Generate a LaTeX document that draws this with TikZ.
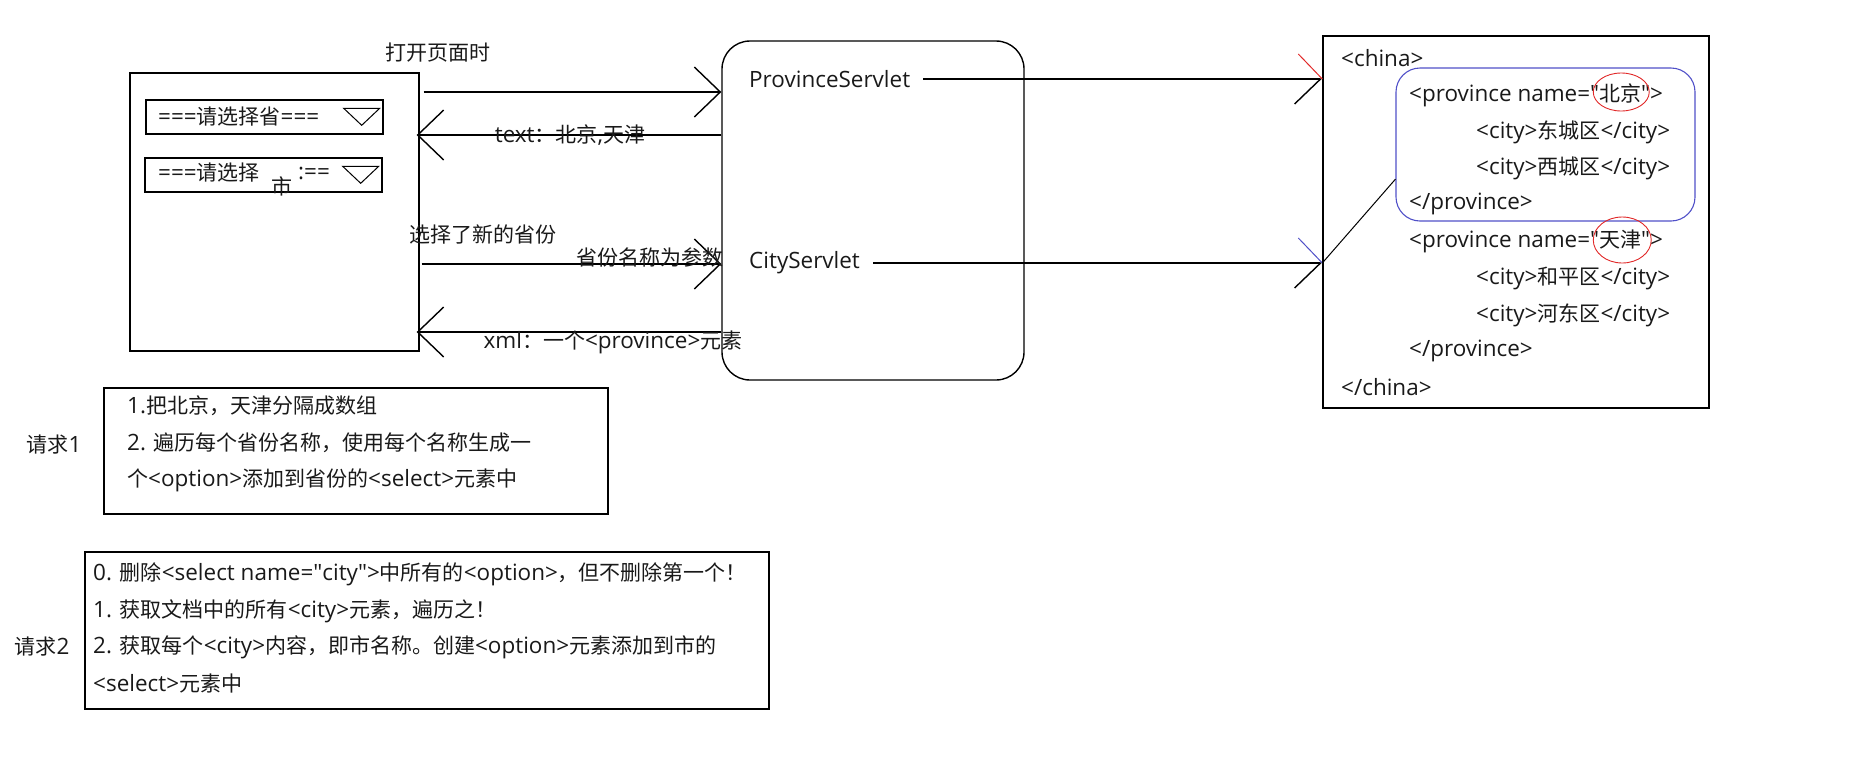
\documentclass[tikz,border=0pt]{standalone}
\usepackage{fontspec}
\usepackage{tikz}
\usetikzlibrary{arrows.meta}
\setmainfont{Open Sans}[Scale=1.07]
\newfontfamily\cjkfont{Noto Sans CJK SC}

\definecolor{markred}{RGB}{225,40,40}
\definecolor{markblue}{RGB}{80,80,200}

% switch to the CJK font for Chinese characters
\XeTeXinterchartokenstate=1
\chardef\cjkclass=10
\newcount\cjkcnt
\def\setcjkrange#1#2{%
  \cjkcnt=#1
  \loop
    \XeTeXcharclass\cjkcnt=\cjkclass
  \ifnum\cjkcnt<#2 \advance\cjkcnt by 1 \repeat}
\setcjkrange{"3000}{"303F}
\setcjkrange{"4E00}{"9FFF}
\setcjkrange{"FF00}{"FFEF}
\XeTeXinterchartoks 0 \cjkclass = {\begingroup\cjkfont}
\XeTeXinterchartoks 1 \cjkclass = {\begingroup\cjkfont}
\XeTeXinterchartoks 2 \cjkclass = {\begingroup\cjkfont}
\XeTeXinterchartoks 3 \cjkclass = {\begingroup\cjkfont}
\XeTeXinterchartoks 4095 \cjkclass = {\begingroup\cjkfont}
\XeTeXinterchartoks \cjkclass 0 = {\endgroup}
\XeTeXinterchartoks \cjkclass 1 = {\endgroup}
\XeTeXinterchartoks \cjkclass 2 = {\endgroup}
\XeTeXinterchartoks \cjkclass 3 = {\endgroup}
\XeTeXinterchartoks \cjkclass 4095 = {\endgroup}

\def\q{\textquotedbl}

\begin{document}
\begin{tikzpicture}[x=1pt,y=-1pt,
  every node/.style={font=\fontsize{21}{25}\selectfont, text=black!90},
  box/.style={draw, line width=1.4pt, inner sep=0pt},
  txt/.style={anchor=west, inner sep=0pt},
  arr/.style={line width=1.4pt, -{Straight Barb[length=26pt,width=50pt]}},
  arrh/.style={line width=1.4pt, -{Straight Barb[length=26pt,width=50pt,harpoon,swap]}}]

\useasboundingbox (0,0) rectangle (1849,772);

% the page with its two selects
\node[box, minimum width=289pt, minimum height=278pt] (page) at (274.5,212) {};
\node[box, minimum width=237pt, minimum height=34pt] (sel1) at (264.5,117) {};
\node[box, minimum width=237pt, minimum height=34pt] (sel2) at (263.5,175) {};
\node[txt] (sel1txt) at (158,117) {===请选择省===};
\node[txt] (sel2txt) at (158,173) {===请选择};
\node[txt] (sel2shi) at (271,186) {市};
\node[txt] (sel2end) at (298,173) {:==};
\foreach \s in {sel1,sel2}
  \draw[line width=1pt] (\s.north east) ++(-40,9) -- ++(36,0) -- ++(-18,17) -- cycle;

% servlets
\node[box, rounded corners=28pt, minimum width=302pt, minimum height=339pt] (srv) at (873,210.5) {};
\node[txt] (psv) at (749,79) {ProvinceServlet};
\node[txt] (csv) at (749,263) {CityServlet};

% xml document
\node[box, minimum width=386pt, minimum height=372pt] (xml) at (1516,222) {};
\node[draw=markblue, line width=1.1pt, rounded corners=24pt, minimum width=299pt, minimum height=153pt] (bjbox) at (1545.5,144.5) {};
\foreach \x/\y/\t in {1341/58/{<china>}, 1409/95/{<province name=\q{}北京\q{}>},
    1476/132/{<city>东城区</city>}, 1476/168/{<city>西城区</city>},
    1409/204/{</province>}, 1409/241/{<province name=\q{}天津\q{}>},
    1476/278/{<city>和平区</city>}, 1476/315/{<city>河东区</city>},
    1409/351/{</province>}, 1341/387/{</china>}}
  \node[txt] (xl\y) at (\x,\y) {\t};
\draw[markred, line width=0.9pt] ([xshift=-42pt,yshift=3pt]xl95.east) ellipse [x radius=28, y radius=19];
\draw[markred, line width=0.9pt] ([xshift=-41pt,yshift=1pt]xl241.east) ellipse [x radius=29, y radius=23];

% requests between page and servlets
\coordinate (ya) at (0,92);
\coordinate (yb) at (0,135);
\coordinate (yc) at (0,264);
\coordinate (yd) at (0,332);
\draw[arr] ([xshift=4pt]page.east |- ya) -- (srv.west |- ya);
\draw[arr] (srv.west |- yb) -- ([xshift=-3pt]page.east |- yb);
\draw[arr] ([xshift=2pt]page.east |- yc) -- (srv.west |- yc);
\draw[arr] (srv.west |- yd) -- ([xshift=-3pt]page.east |- yd);
\node (open) at (438,53) {打开页面时};
\node (textres) at (570,135) {text：北京,天津};
\node (newprov) at (483,234) {选择了新的省份};
\node (param) at (650,257) {省份名称为参数};
\node (xmlres) at (613,342) {xml：一个<province>元素};

% servlets to xml
\draw[arrh] ([xshift=13pt]psv.east) -- (xml.west |- psv.east);
\draw[markred, line width=1pt] (xml.west |- psv.east) -- ++(-24,-25);
\draw[arrh] ([xshift=13pt]csv.east) -- (xml.west |- csv.east);
\draw[markblue, line width=1pt] (xml.west |- csv.east) -- ++(-24,-25);
\draw[line width=1pt] (xml.west |- csv.east) -- (bjbox.193);

% request 1
\node[box, minimum width=504pt, minimum height=126pt] (req1) at (356,451) {};
\node (req1lbl) at (54,445) {请求1};
\foreach \y/\t in {406/{1.把北京，天津分隔成数组}, 443/{2. 遍历每个省份名称，使用每个名称生成一},
    480/{个<option>添加到省份的<select>元素中}}
  \node[txt] (ra\y) at (127,\y) {\t};

% request 2
\node[box, minimum width=684pt, minimum height=157pt] (req2) at (427,630.5) {};
\node (req2lbl) at (42,647) {请求2};
\foreach \y/\t in {574/{0. 删除<select name=\q{}city\q{}>中所有的<option>，但不删除第一个！},
    611/{1. 获取文档中的所有<city>元素，遍历之！},
    647/{2. 获取每个<city>内容，即市名称。创建<option>元素添加到市的},
    683/{<select>元素中}}
  \node[txt] (rb\y) at (93,\y) {\t};

\end{tikzpicture}
\end{document}
